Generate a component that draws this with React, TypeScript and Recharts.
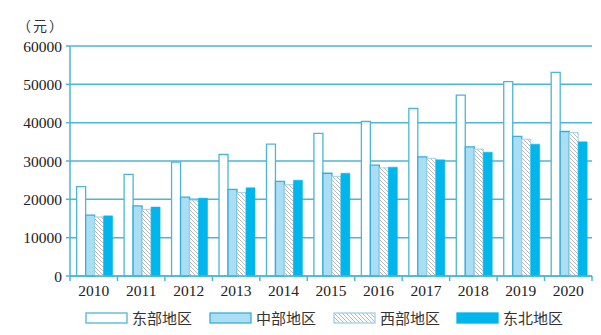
import { Bar, BarChart, CartesianGrid, XAxis, YAxis } from "recharts";

const years = ["2010", "2011", "2012", "2013", "2014", "2015", "2016", "2017", "2018", "2019", "2020"];
const east = [23300, 26500, 29700, 31700, 34400, 37200, 40300, 43700, 47200, 50700, 53100];
const central = [15900, 18300, 20600, 22600, 24700, 26800, 28900, 31100, 33700, 36400, 37700];
const west = [15400, 17400, 19800, 21800, 23800, 26000, 28200, 30700, 33100, 35700, 37400];
const northeast = [15700, 18000, 20300, 23000, 25000, 26800, 28400, 30300, 32300, 34400, 35000];
const yTicks = [0, 10000, 20000, 30000, 40000, 50000, 60000];
const seriesNames = ["东部地区", "中部地区", "西部地区", "东北地区"];

const data = years.map((year, i) => ({
  year,
  east: east[i],
  central: central[i],
  west: west[i],
  northeast: northeast[i],
}));

const line = "#4db6d6";
const serif = '"Liberation Serif", "DejaVu Serif", serif';
const cjk = '"Noto Sans CJK SC", sans-serif';
const catW = 522 / 11;

function YearTick(props: any) {
  const { x, y, payload, index } = props;
  return (
    <g>
      <line x1={x - catW / 2} x2={x - catW / 2} y1={y} y2={y + 5} stroke={line} strokeWidth={1.5} />
      {index === years.length - 1 && (
        <line x1={x + catW / 2} x2={x + catW / 2} y1={y} y2={y + 5} stroke={line} strokeWidth={1.5} />
      )}
      <text x={x} y={y + 20} textAnchor="middle" fontFamily={serif} fontSize={15.5} fill="#222">
        {payload.value}
      </text>
    </g>
  );
}

const swatches = [
  { fill: "#ffffff", stroke: line },
  { fill: "#a9def4", stroke: "#3aaed6" },
  { fill: "url(#hatch)", stroke: "#9fd3e6" },
  { fill: "#00b6ec", stroke: "#00b6ec" },
];
const legendX = [86, 210, 334, 457];

export default function App() {
  return (
    <div style={{ position: "absolute", left: 0, top: 0, width: 601, height: 335, background: "#fff" }}>
      <BarChart
        width={601}
        height={335}
        data={data}
        margin={{ top: 46, right: 9, left: 0, bottom: 29 }}
        barCategoryGap="14%"
        barGap={0}
      >
        <defs>
          <pattern id="hatch" width={4} height={4} patternUnits="userSpaceOnUse">
            <rect width={4} height={4} fill="#fff" />
            <path d="M0,0 L4,4 M-1,3 L1,5 M3,-1 L5,1" stroke="#b0b0b0" strokeWidth={0.9} />
          </pattern>
        </defs>
        <CartesianGrid vertical={false} stroke={line} strokeWidth={1.5} />
        <XAxis
          dataKey="year"
          height={30}
          tickSize={0}
          tickMargin={0}
          tickLine={false}
          axisLine={{ stroke: line, strokeWidth: 1.5 }}
          tick={<YearTick />}
          interval={0}
        />
        <YAxis
          width={70}
          domain={[0, 60000]}
          ticks={yTicks}
          tickSize={4}
          tickMargin={4}
          tickLine={{ stroke: line, strokeWidth: 1.5 }}
          axisLine={{ stroke: line, strokeWidth: 1.5 }}
          tick={{ fill: "#222", fontSize: 15.5, fontFamily: serif }}
          interval={0}
        />
        <Bar dataKey="east" name={seriesNames[0]} fill={swatches[0].fill} stroke={swatches[0].stroke} strokeWidth={1.3} isAnimationActive={false} />
        <Bar dataKey="central" name={seriesNames[1]} fill={swatches[1].fill} stroke={swatches[1].stroke} strokeWidth={1.3} isAnimationActive={false} />
        <Bar dataKey="west" name={seriesNames[2]} fill={swatches[2].fill} stroke={swatches[2].stroke} strokeWidth={1} isAnimationActive={false} />
        <Bar dataKey="northeast" name={seriesNames[3]} fill={swatches[3].fill} stroke={swatches[3].stroke} strokeWidth={0.5} isAnimationActive={false} />
        <text x={17} y={31} fontFamily={cjk} fontSize={14} letterSpacing={2} fill="#333">（元）</text>
      </BarChart>
      <svg width={601} height={30} style={{ position: "absolute", left: 0, top: 303 }}>
        {seriesNames.map((name, i) => (
          <g key={name}>
            <rect x={legendX[i]} y={10} width={41} height={10} fill={swatches[i].fill} stroke={swatches[i].stroke} strokeWidth={1.3} />
            <text x={legendX[i] + 46} y={21} fontFamily={cjk} fontSize={15} fill="#333">{name}</text>
          </g>
        ))}
      </svg>
    </div>
  );
}
